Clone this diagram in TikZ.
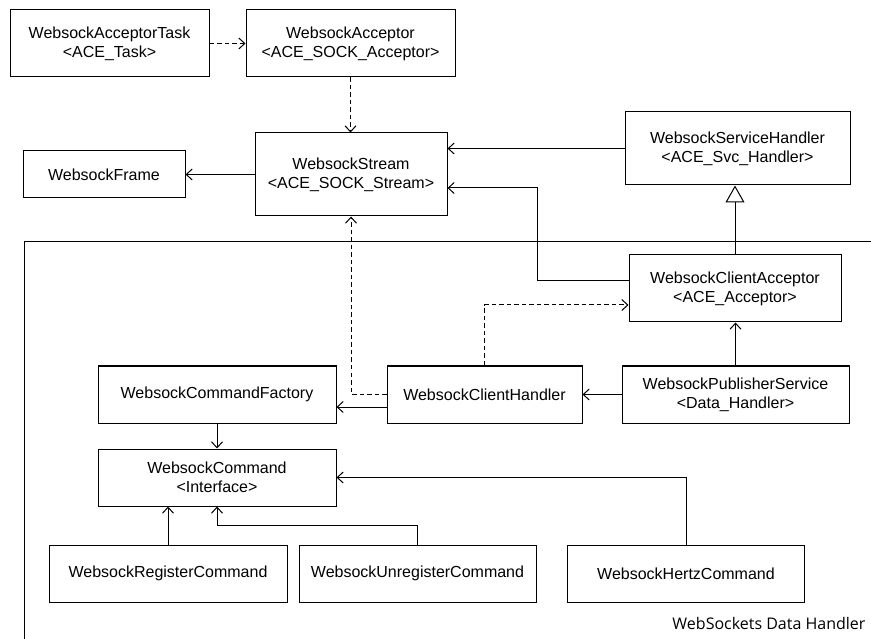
\documentclass[tikz,border=0pt]{standalone}
\usepackage{fontspec}
\setmainfont{Liberation Sans}
\newfontfamily\labelfont{Open Sans}
\usetikzlibrary{arrows.meta}
\tikzset{
  box/.style={draw, line width=1pt, fill=white, inner sep=0pt, align=center,
    font=\fontsize{16}{19}\selectfont},
  conn/.style={line width=1pt, -{Straight Barb[length=6pt,width=11pt,line width=1pt]}},
  dconn/.style={conn, dash pattern=on 4.5pt off 3pt},
  inherit/.style={line width=1pt, -{Triangle[open,length=17pt,width=19pt,line width=1pt,fill=white]}},
}
\begin{document}
\begin{tikzpicture}[x=1pt,y=-1pt]
\useasboundingbox (0,0) rectangle (871,639);
% frame
\draw[line width=1pt] (871,242) -- (24,242) -- (24,639);
\node[anchor=base east, font=\labelfont\fontsize{16}{19}\selectfont] (lbl) at (869,629) {WebSockets Data Handler};
% boxes
\node[box, minimum width=199, minimum height=67] (task) at (109.5,43.5) {WebsockAcceptorTask\\<ACE\_Task>};
\node[box, minimum width=209, minimum height=67] (acc) at (350.5,43.5) {WebsockAcceptor\\<ACE\_SOCK\_Acceptor>};
\node[box, minimum width=192, minimum height=83] (stream) at (351,174.5) {WebsockStream\\<ACE\_SOCK\_Stream>};
\node[box, minimum width=162, minimum height=47] (frame) at (104,174.5) {WebsockFrame};
\node[box, minimum width=225, minimum height=73] (svc) at (737.5,148.5) {WebsockServiceHandler\\<ACE\_Svc\_Handler>};
\node[box, minimum width=212, minimum height=67] (cacc) at (735,288.5) {WebsockClientAcceptor\\<ACE\_Acceptor>};
\node[box, minimum width=238, minimum height=57] (cfac) at (217,394.5) {WebsockCommandFactory};
\node[box, minimum width=195, minimum height=57] (chand) at (484.5,394.5) {WebsockClientHandler};
\node[box, minimum width=227, minimum height=57] (pub) at (735.5,394.5) {WebsockPublisherService\\<Data\_Handler>};
\node[box, minimum width=238, minimum height=57] (cmd) at (217,477.5) {WebsockCommand\\<Interface>};
\node[box, minimum width=238, minimum height=57] (reg) at (168,573.5) {WebsockRegisterCommand};
\node[box, minimum width=237, minimum height=57] (unreg) at (417.5,573.5) {WebsockUnregisterCommand};
\node[box, minimum width=237, minimum height=57] (hertz) at (686,573.5) {WebsockHertzCommand};
% connectors
\draw[dconn] (task) -- (acc);
\draw[dconn] (acc.south) -- (acc.south |- stream.north);
\draw[conn] (stream) -- (frame);
\draw[conn] (svc.west) -- (svc.west -| stream.east);
\draw[conn] (cacc.west |- 0,281) -| (537,188) -- (stream.east |- 0,188);
\draw[inherit] (cacc.north) -- (cacc.north |- svc.south);
\draw[dconn] (chand.north) |- (cacc.west |- 0,305);
\draw[conn] (pub.north) -- (pub.north |- cacc.south);
\draw[conn] (pub.west) -- (chand.east);
\draw[conn] (chand.west |- 0,407) -- (cfac.east |- 0,407);
\draw[dconn] (chand.west |- 0,394) -| (stream.south);
\draw[conn] (cfac.south) -- (cmd.north);
\draw[conn] (reg.north) -- (reg.north |- cmd.south);
\draw[conn] (unreg.north) -- (unreg.north |- 0,525) -| (cmd.south);
\draw[conn] (hertz.north) |- (cmd.east);
\end{tikzpicture}
\end{document}
